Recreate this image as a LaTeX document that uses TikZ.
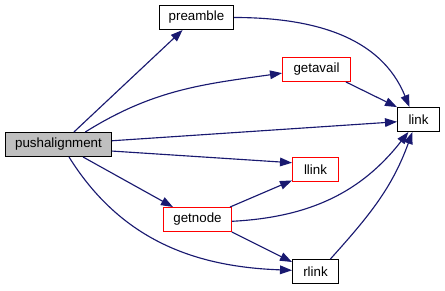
\documentclass[tikz,border=0pt]{standalone}
\usepackage{fontspec}
\setmainfont{Liberation Sans}
\usetikzlibrary{arrows.meta}

\definecolor{edgeblue}{RGB}{25,25,112}
\definecolor{rootgray}{RGB}{191,191,191}
\definecolor{boxred}{RGB}{255,0,0}

\begin{document}
\begin{tikzpicture}[x=0.75pt, y=-0.75pt]
\tikzset{
	    fnnode/.style={rectangle, draw=black, fill=white, line width=0.75pt, inner xsep=2pt, inner ysep=0pt, minimum height=18pt, font=\fontsize{10pt}{12pt}\selectfont},
	    rootnode/.style={fnnode, fill=rootgray},
	    rednode/.style={fnnode, draw=boxred},
	    callarrow/.style={-{Triangle[length=9pt, width=6.5pt]}, draw=edgeblue, line width=0.85pt}
	}
	\useasboundingbox (0,0) rectangle (445,291);

	\node[rootnode, minimum width=79.5pt] (push) at (58.5,144.5) {pushalignment};
	\node[fnnode, minimum width=55.5pt] (preamble) at (196.5,17.5) {preamble};
	\node[rednode, minimum width=51pt] (getavail) at (316.5,69.5) {getavail};
	\node[fnnode, minimum width=31.5pt] (link) at (418.5,119.5) {link};
	\node[rednode, minimum width=34.5pt] (llink) at (315.5,169.5) {llink};
	\node[rednode, minimum width=51pt] (getnode) at (197.5,219.5) {getnode};
	\node[fnnode, minimum width=34.5pt] (rlink) at (315.5,271.5) {rlink};

	% calls out of pushalignment
	\draw[callarrow] (push.39) -- (preamble.222);
	\draw[callarrow] (push.25) to[out=32, in=188] (getavail.186);
	\draw[callarrow] (push.4) -- (link.186);
	\draw[callarrow] (push.353) -- (llink.164);
	\draw[callarrow] (push.333) -- (getnode.153);
	\draw[callarrow] (push.310) to[out=-58, in=178] (rlink.177);

	% the rest
	\draw[callarrow] (preamble.east) to[out=0, in=112] (link.126);
	\draw[callarrow] (getavail.337) -- (link.150);
	\draw[callarrow] (getnode.21) -- (llink.205);
	\draw[callarrow] (getnode.357) to[out=3, in=232] (link.231);
	\draw[callarrow] (getnode.340) -- (rlink.158);
	\draw[callarrow] (rlink.40) to[out=48, in=250] (link.244);

\end{tikzpicture}
\end{document}
